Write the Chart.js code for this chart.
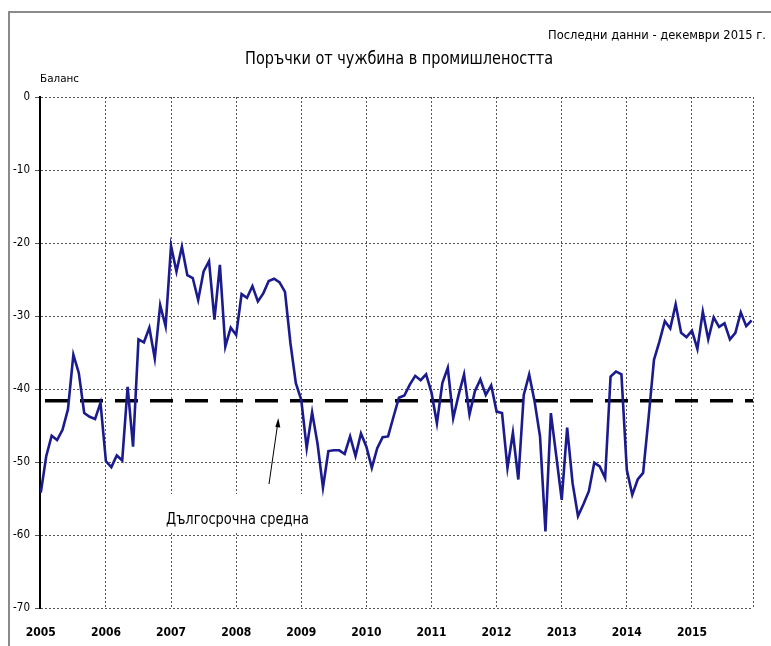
<!DOCTYPE html>
<html><head><meta charset="utf-8">
<script src="https://cdn.jsdelivr.net/npm/chart.js@4"></script>
<style>html,body{margin:0;padding:0;background:#fff;}canvas{display:block;}</style>
</head><body>
<canvas id="c" width="771" height="646"></canvas>
<script>
// ---- data (balance, monthly, Jan 2005 - Dec 2015) ----
const years = ['2005','2006','2007','2008','2009','2010','2011','2012','2013','2014','2015'];
const y2005 = [-54.2, -49.2, -46.4, -47.0, -45.6, -42.8, -35.3, -37.8, -43.3, -43.8, -44.1, -41.9];
const y2006 = [-49.9, -50.7, -49.1, -49.8, -39.7, -47.9, -33.2, -33.6, -31.6, -35.8, -28.5, -31.4];
const y2007 = [-20.4, -23.9, -20.5, -24.4, -24.8, -27.8, -23.9, -22.5, -30.5, -23.0, -34.2, -31.6];
const y2008 = [-32.6, -27.0, -27.5, -25.9, -28.0, -26.9, -25.2, -24.9, -25.4, -26.7, -33.7, -39.2];
const y2009 = [-41.5, -48.1, -43.2, -47.5, -53.5, -48.5, -48.4, -48.4, -48.9, -46.5, -49.2, -46.1];
const y2010 = [-47.9, -50.8, -48.1, -46.6, -46.5, -43.8, -41.2, -40.9, -39.4, -38.2, -38.8, -38.0];
const y2011 = [-40.5, -44.7, -39.2, -37.1, -44.0, -40.8, -38.0, -43.5, -40.3, -38.7, -40.8, -39.5];
const y2012 = [-43.1, -43.3, -50.8, -46.0, -52.4, -40.8, -38.0, -41.7, -46.5, -59.5, -43.3, -49.2];
const y2013 = [-55.2, -45.3, -52.9, -57.4, -55.8, -54.0, -50.1, -50.6, -52.2, -38.3, -37.6, -38.0];
const y2014 = [-51.1, -54.5, -52.4, -51.5, -44.0, -36.0, -33.5, -30.7, -31.7, -28.4, -32.3, -32.9];
const y2015 = [-32.0, -34.5, -29.4, -33.2, -30.2, -31.5, -31.0, -33.2, -32.3, -29.5, -31.4, -30.6];
const longTermAverage = -41.6;
const yTicks = [0, -10, -20, -30, -40, -50, -60, -70];

const TITLE = 'Поръчки от чужбина в промишлеността';
const SUBTITLE = 'Последни данни - декември 2015 г.';
const YLABEL = 'Баланс';
const AVG_LABEL = 'Дългосрочна средна';

// ---- build datasets ----
const allValues = [].concat(y2005,y2006,y2007,y2008,y2009,y2010,y2011,y2012,y2013,y2014,y2015);
const seriesPoints = allValues.map((v,i)=>({x:i,y:v}));
const X_MIN = -0.15, X_MAX = 131.25;
const avgPoints = [{x:X_MIN,y:longTermAverage},{x:X_MAX,y:longTermAverage}];
const yearTickValues = years.map((_,i)=>i*12);

const FONT = '"Liberation Sans Narrow","Arial Narrow","DejaVu Sans Condensed","Liberation Sans",sans-serif';

function fitText(c, text, left, baseline, targetW, font){
  c.save();
  c.font = font;
  const w = c.measureText(text).width;
  c.translate(left, baseline);
  c.scale(targetW / w, 1);
  c.textAlign = 'left';
  c.textBaseline = 'alphabetic';
  c.fillStyle = '#000';
  c.fillText(text, 0, 0);
  c.restore();
}

const decor = {
  id: 'decor',
  beforeDatasetsDraw(chart){
    const c = chart.ctx;
    c.save();
    c.fillStyle = '#fff';
    c.fillRect(155, 494, 165, 38);
    c.restore();
  },
  afterDraw(chart){
    const c = chart.ctx;
    // outer frame
    c.save();
    c.strokeStyle = '#8a8a8a';
    c.lineWidth = 2;
    c.strokeRect(9, 12, 900, 900);
    c.restore();
    fitText(c, SUBTITLE, 548, 39, 218, '13px ' + FONT);
    fitText(c, TITLE, 245, 64, 308, '18px ' + FONT);
    fitText(c, YLABEL, 40, 82, 39, '11px ' + FONT);
    fitText(c, AVG_LABEL, 166, 524, 143, '16px ' + FONT);
    // arrow
    c.save();
    c.strokeStyle = '#000';
    c.fillStyle = '#000';
    c.lineWidth = 1;
    c.beginPath();
    c.moveTo(269, 484);
    c.lineTo(277.5, 425);
    c.stroke();
    c.beginPath();
    c.moveTo(278.3, 418);
    c.lineTo(275.3, 427);
    c.lineTo(280.3, 427.6);
    c.closePath();
    c.fill();
    c.restore();
  }
};

new Chart(document.getElementById('c').getContext('2d'), {
  type: 'line',
  data: {
    datasets: [
      { label: YLABEL, data: seriesPoints, borderColor: '#1b1b8f', borderWidth: 2.6,
        pointRadius: 0, tension: 0, fill: false, order: 1 },
      { label: AVG_LABEL, data: avgPoints, borderColor: '#000', borderWidth: 3.5,
        borderDash: [23, 12], borderDashOffset: 30, pointRadius: 0, fill: false, order: 2 }
    ]
  },
  options: {
    responsive: false, animation: false, devicePixelRatio: 1,
    layout: { padding: { left: 0, right: 15, top: 97, bottom: 0 } },
    plugins: { legend: { display: false }, tooltip: { enabled: false }, title: { display: false } },
    scales: {
      x: {
        type: 'linear', min: X_MIN, max: X_MAX,
        afterFit(s){ s.height = 38; },
        afterBuildTicks(s){ s.ticks = yearTickValues.map(v=>({value:v})).concat([{value:X_MAX}]); },
        ticks: { autoSkip: false, maxRotation: 0, minRotation: 0, padding: 18, color: '#000',
          font: { family: FONT, size: 12, weight: 'bold' },
          callback: (v) => (v % 12 === 0 && v >= 0 && v <= 120) ? years[v/12] : '' },
        grid: { color: '#555', lineWidth: 1, drawTicks: false },
        border: { display: false, dash: [2, 2] }
      },
      y: {
        min: -70, max: 0,
        afterFit(s){ s.width = 40; },
        afterBuildTicks(s){ s.ticks = yTicks.map(v=>({value:v})); },
        ticks: { padding: 5, color: '#000', font: { family: FONT, size: 11.5 },
          callback: (v) => String(v) },
        grid: { color: '#555', lineWidth: 1, drawTicks: true, tickLength: 5, tickColor: '#555' },
        border: { display: true, color: '#000', width: 2, dash: [2, 2] }
      }
    }
  },
  plugins: [decor]
});
</script>
</body></html>
